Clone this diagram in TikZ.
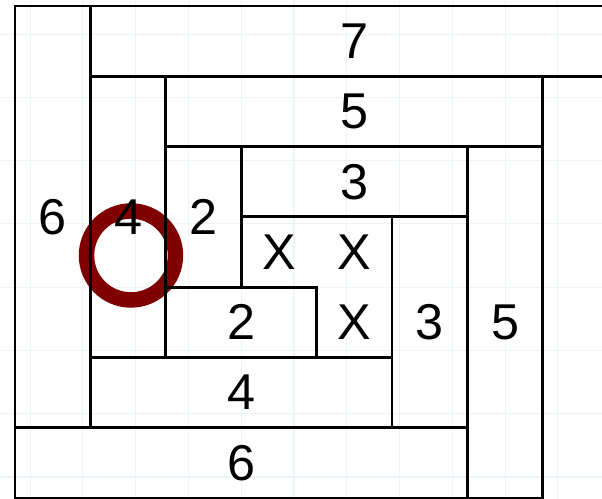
\documentclass[tikz,border=0pt]{standalone}
\usepackage{fontspec}
\setmainfont{Liberation Sans}
\definecolor{ringred}{RGB}{128,0,0}
\definecolor{paper}{RGB}{236,244,247}

\begin{document}
\begin{tikzpicture}[x=2cm, y=-1.8647cm, line width=2.1pt,
    lbl/.style={font=\fontsize{38}{40}\selectfont, inner sep=0pt}]

    \useasboundingbox (-0.199,-0.085) rectangle (7.785,7.013);
    \clip (-0.199,-0.085) rectangle (7.785,7.013);

    % faint paper grid
    \foreach \x in {0.2,0.9,1.6,2.3,3.0,3.7,4.4,5.1,5.8,6.5,7.2} {
        \draw[paper, line width=0.8pt] (\x,-0.1) -- (\x,7.1);
    }
    \foreach \y in {0.4,1.3,2.2,3.1,4.0,4.9,5.8,6.7} {
        \draw[paper, line width=0.8pt] (-0.2,\y) -- (7.8,\y);
    }

    % ring under the lines
    \draw[ringred, line width=0.41cm] (1.538,3.549) circle (1.18cm);

    % logs: corner / corner / number
    \foreach \xa/\ya/\xb/\yb/\n [count=\i] in {
        1/0/8/1/7, 0/0/1/6/6, 0/6/6/7/6,
        2/1/7/2/5, 6/2/7/7/5,
        1/1/2/5/4, 1/5/5/6/4,
        3/2/6/3/3, 5/3/6/6/3,
        2/2/3/4/2, 2/4/4/5/2} {
        \draw (\xa,\ya) rectangle (\xb,\yb);
        \node[lbl] (log\i) at ({(\xa+\xb)/2},{(\ya+\yb)/2}) {\n};
    }

    % centre squares
    \node[lbl] (cx1) at (3.5,3.5) {X};
    \node[lbl] (cx2) at (4.5,3.5) {X};
    \node[lbl] (cx3) at (4.5,4.5) {X};

\end{tikzpicture}
\end{document}
